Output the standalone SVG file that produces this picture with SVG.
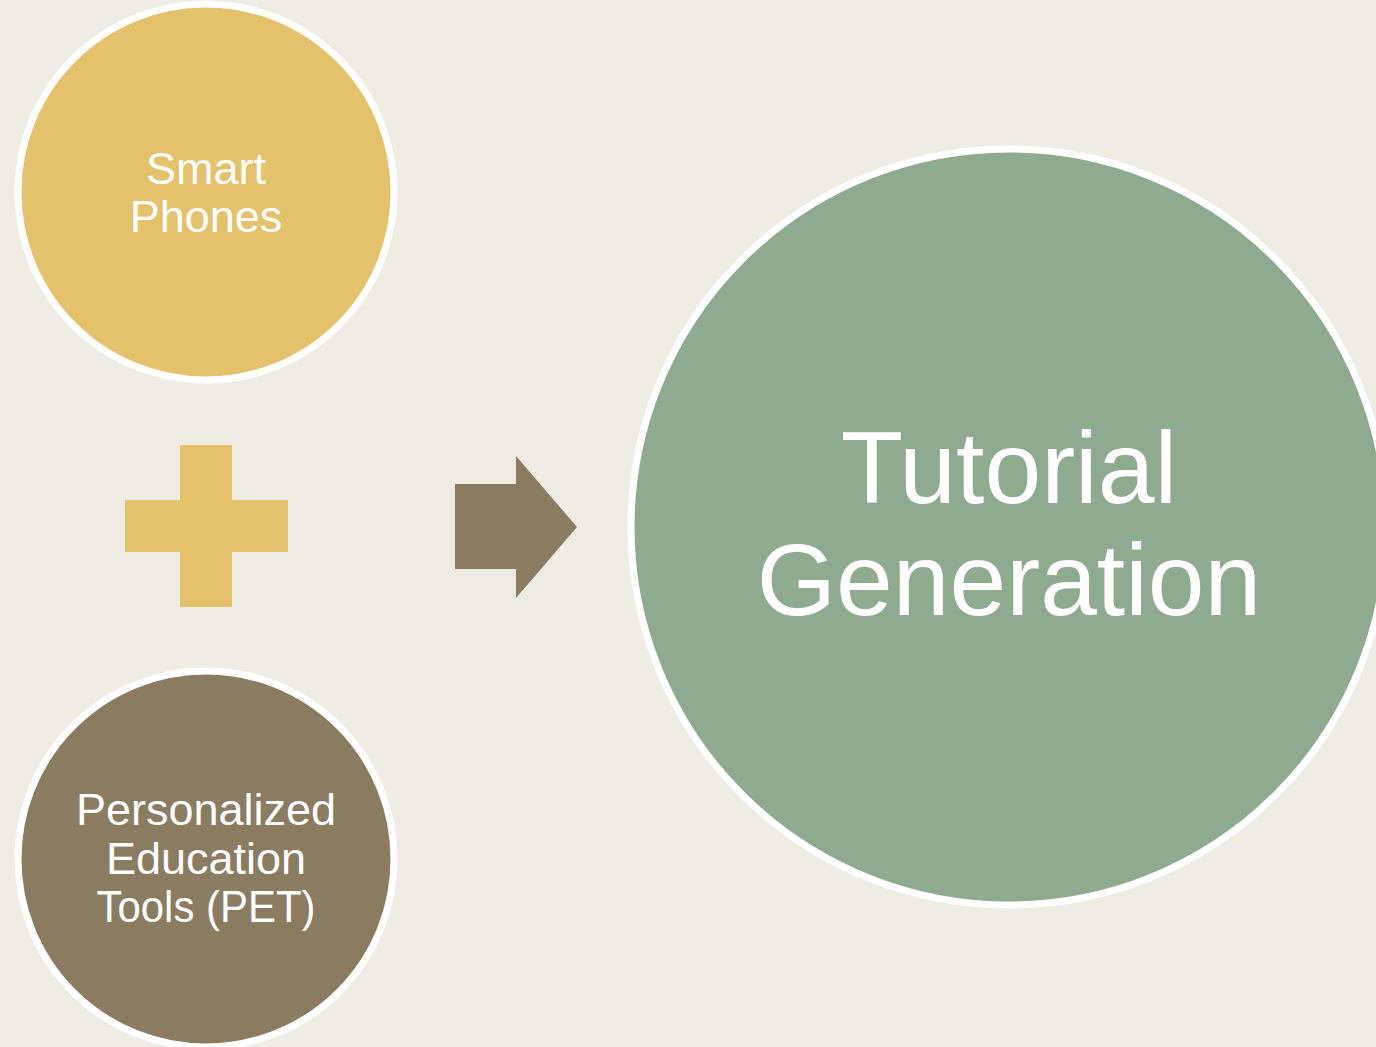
<svg xmlns="http://www.w3.org/2000/svg" width="1376" height="1047" viewBox="0 0 1376 1047">
<style>
.node{stroke:#FFFFFF;stroke-width:7}
.lbl{font-family:"Liberation Sans",Arial,sans-serif;fill:#FFFFFF;text-anchor:middle}
.sm{font-size:45px}
.lg{font-size:102px}
</style>
<rect x="0" y="0" width="1376" height="1047" fill="#EFECE3"/>
<g id="smart-phones">
<circle class="node" cx="206" cy="192" r="188" fill="#E4C16B"/>
<text class="lbl sm" x="206" y="184">Smart</text>
<text class="lbl sm" x="206" y="232">Phones</text>
</g>
<g id="pet">
<circle class="node" cx="206" cy="859" r="188" fill="#8A7B61"/>
<text class="lbl sm" x="206" y="825">Personalized</text>
<text class="lbl sm" x="206" y="874">Education</text>
<text class="lbl sm" x="206" y="922" textLength="219" lengthAdjust="spacingAndGlyphs">Tools (PET)</text>
</g>
<g id="tutorial-generation">
<circle class="node" cx="1009" cy="527" r="378" fill="#8EAB8F"/>
<text class="lbl lg" x="1009" y="503">Tutorial</text>
<text class="lbl lg" x="1009" y="615">Generation</text>
</g>
<g id="connectors">
<path id="plus" d="M180 445H232V500H288V552H232V607H180V552H125V500H180Z" fill="#E4C16B"/>
<path id="arrow" d="M455 484H516V456L577 527L516 598V569H455Z" fill="#8A7B61"/>
</g>
</svg>
